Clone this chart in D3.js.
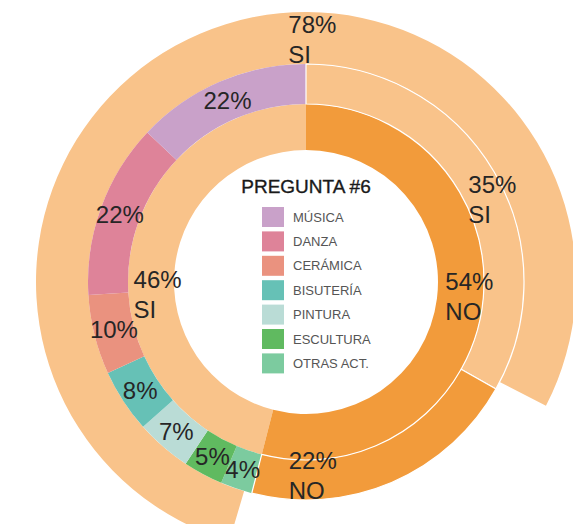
<!DOCTYPE html>
<html>
<head>
<meta charset="utf-8">
<script src="https://cdn.jsdelivr.net/npm/d3@7"></script>
<style>
  html, body { margin: 0; padding: 0; background: #fff; }
  svg { display: block; font-family: "Liberation Sans", Arial, sans-serif; }
</style>
</head>
<body>
<svg id="chart" width="573" height="524"></svg>
<script>
// ---- data -------------------------------------------------------------
const title = "PREGUNTA #6";
const answerNames = ["SI", "NO"];
// inner ring: first answer
const innerValues = [46, 54];
// breakdown of the SI answers by activity
const activityNames = ["MÚSICA", "DANZA", "CERÁMICA", "BISUTERÍA", "PINTURA", "ESCULTURA", "OTRAS ACT."];
const activityValues = [22, 22, 10, 8, 7, 5, 4];
// follow-up answers of the NO group
const followValues = [35, 22];
// overall share
const outerValues = [78, 22];

// ---- styles -----------------------------------------------------------
const lightOrange = "#F9C38A";
const darkOrange = "#F29B3B";
const activityColors = ["#C9A1C9", "#DE8399", "#EA927F", "#66C1B6", "#BADCD6", "#60BA60", "#7CCB9F"];
const ink = "#262626";

const cx = 306, cy = 282;
const r0 = 132, r1 = 178, r2 = 218, r3 = 270;
const TAU = Math.PI * 2;
const deg = Math.PI / 180;

const svg = d3.select("#chart");
const g = svg.append("g").attr("transform", `translate(${cx},${cy})`);

const pie = d3.pie().sort(null).value(d => d.value);

// inner ring: SI runs counter-clockwise from 12 o'clock, NO clockwise
const innerStart = -TAU * innerValues[0] / d3.sum(innerValues);
const innerArcs = pie.startAngle(innerStart).endAngle(innerStart + TAU)(
  innerValues.map((v, i) => ({ name: answerNames[i], value: v, color: i === 0 ? lightOrange : darkOrange }))
);
const siArc = innerArcs[0], noArc = innerArcs[1];

// middle ring: activities fill the SI sector, Música next to 12 o'clock
const activities = activityValues.map((v, i) => ({ name: activityNames[i], value: v, color: activityColors[i] }));
const activityArcs = pie.startAngle(siArc.startAngle).endAngle(siArc.endAngle)(activities.slice().reverse());

// middle ring: follow-up answers fill the NO sector
const followArcs = pie.startAngle(noArc.startAngle).endAngle(noArc.endAngle)(
  followValues.map((v, i) => ({ name: answerNames[i], value: v, color: i === 0 ? lightOrange : darkOrange }))
);

// outer ring: the NO share is left open, centred on the follow-up NO sector
const followNo = followArcs[1];
const noMid = (followNo.startAngle + followNo.endAngle) / 2;
const outerTotal = d3.sum(outerValues);
const outerStart = noMid - TAU * (outerValues[0] + outerValues[1] / 2) / outerTotal;
const outerArcs = pie.startAngle(outerStart).endAngle(outerStart + TAU)(
  outerValues.map((v, i) => ({ name: answerNames[i], value: v }))
);

const arcInner = d3.arc().innerRadius(r0).outerRadius(r1);
const arcMiddle = d3.arc().innerRadius(r1).outerRadius(r2);
const arcOuter = d3.arc().innerRadius(r2).outerRadius(r3);

// outer ring (SI only)
g.append("g").selectAll("path")
  .data(outerArcs.filter(a => a.data.name === "SI"))
  .join("path")
  .attr("d", arcOuter)
  .attr("fill", lightOrange);

// inner ring
g.append("g").selectAll("path")
  .data(innerArcs)
  .join("path")
  .attr("d", arcInner)
  .attr("fill", d => d.data.color);

// activity segments
g.append("g").selectAll("path")
  .data(activityArcs)
  .join("path")
  .attr("d", arcMiddle)
  .attr("fill", d => d.data.color);

// follow-up segments, outlined in white
g.append("g").selectAll("path")
  .data(followArcs)
  .join("path")
  .attr("d", arcMiddle)
  .attr("fill", d => d.data.color)
  .attr("stroke", "#fff")
  .attr("stroke-width", 1.2);

// ---- labels -----------------------------------------------------------
const pct = v => `${v}%`;
const labelSize = 24;

// single-line labels on the activity segments
g.append("g").selectAll("text")
  .data(activityArcs)
  .join("text")
  .attr("transform", d => `translate(${arcMiddle.centroid(d)})`)
  .attr("text-anchor", "middle")
  .attr("dy", "0.35em")
  .attr("font-size", labelSize)
  .attr("fill", ink)
  .text(d => pct(d.data.value));

// two-line labels (value over answer), left-aligned block centred on a spot
function blockLabel(lines, angleDeg, r) {
  const a = angleDeg * deg;
  const t = g.append("text").attr("font-size", labelSize).attr("fill", ink);
  lines.forEach((s, i) => t.append("tspan").attr("x", 0).attr("y", i * 30).text(s));
  const b = t.node().getBBox();
  const px = r * Math.sin(a), py = -r * Math.cos(a);
  t.attr("transform", `translate(${px - b.x - b.width / 2},${py - b.y - b.height / 2})`);
}

blockLabel([pct(outerValues[0]), answerNames[0]], 1.5, 243);
blockLabel([pct(innerValues[0]), answerNames[0]], -95, 149);
blockLabel([pct(innerValues[1]), answerNames[1]], 95, 164);
blockLabel([pct(followValues[0]), answerNames[0]], 66, 204);
blockLabel([pct(followValues[1]), answerNames[1]], 178, 194);

// ---- legend in the hole -----------------------------------------------
g.append("text")
  .attr("x", 0)
  .attr("y", -89)
  .attr("text-anchor", "middle")
  .attr("font-size", 19)
  .attr("fill", "#1a1a1a")
  .attr("stroke", "#1a1a1a")
  .attr("stroke-width", 0.35)
  .text(title);

const legend = g.append("g").attr("transform", "translate(-44,-75)");
const row = legend.selectAll("g")
  .data(activities)
  .join("g")
  .attr("transform", (d, i) => `translate(0,${i * 24.4})`);
row.append("rect")
  .attr("width", 22)
  .attr("height", 20)
  .attr("fill", d => d.color);
row.append("text")
  .attr("x", 31)
  .attr("y", 10)
  .attr("dy", "0.35em")
  .attr("font-size", 13)
  .attr("fill", "#555")
  .text(d => d.name);
</script>
</body>
</html>
